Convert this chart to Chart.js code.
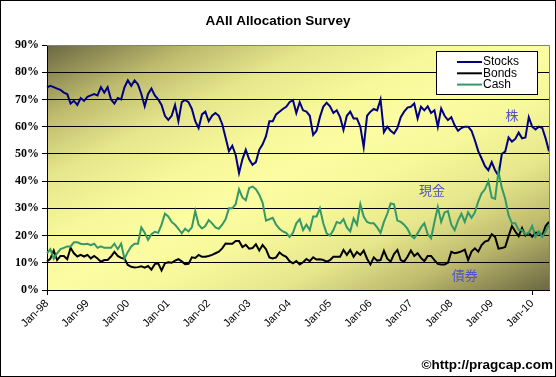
<!DOCTYPE html>
<html>
<head>
<meta charset="utf-8">
<script src="https://cdn.jsdelivr.net/npm/chart.js@4.4.0/dist/chart.umd.min.js"></script>
<style>
  html, body { margin: 0; padding: 0; background: #fff; }
  canvas { display: block; }
</style>
</head>
<body>
<canvas id="chart" width="556" height="377"></canvas>
<script>
// monthly survey, Jan-98 .. Jun-10
const monthNames = ['Jan', 'Feb', 'Mar', 'Apr', 'May', 'Jun', 'Jul', 'Aug', 'Sep', 'Oct', 'Nov', 'Dec'];
const years = ['98', '99', '00', '01', '02', '03', '04', '05', '06', '07', '08', '09', '10'];
const lastLabel = 'Jun-10';

const stocks = [
  74.4, 75, 74.5, 74, 73.5, 72.5, 72, 68.5, 69.5, 68,
  70.5, 69.5, 71, 71.5, 72, 71.5, 74.5, 72.5, 74.5, 70,
  68.5, 70.5, 70, 74.5, 77, 75, 77, 75.5, 72, 67.5,
  72, 74, 71.5, 70, 68, 64, 62.5, 64, 68, 62,
  69, 69.8, 69, 66.5, 62, 59.5, 64.5, 65.5, 62, 64,
  65, 64, 61, 56, 51, 53, 49.6, 43, 48, 51.5,
  48, 46, 47, 51.5, 53.5, 56.5, 62, 62, 64.5, 65.5,
  66.5, 67.3, 69, 69.8, 65, 69, 66, 65.5, 64, 57,
  58.5, 63.5, 67.3, 68.8, 67.5, 65, 66, 63.5, 58.8, 64,
  65.5, 63, 63, 60, 52.5, 64, 65.5, 66.5, 66, 70,
  58, 60, 58.5, 57.5, 59.5, 63.5, 65.5, 67, 67.3, 68.5,
  63, 67.3, 66, 67.5, 65, 66, 60, 66.7, 64, 62.4,
  63.5, 60.5, 58.5, 59.5, 60, 60, 58.5, 55, 51, 48.3,
  45.5, 44, 47, 44, 42, 50, 50.8, 56, 54.5, 55.5,
  57.8, 55.7, 56, 63.5, 60, 59, 60, 59.5, 55.7, 51
];
const bonds = [
  10.5, 11.5, 14.5, 11, 12.5, 12.5, 11.3, 15.5, 13.5, 12.3,
  12.9, 12.3, 12.9, 11.6, 12.5, 11.6, 10.4, 11, 11, 12.3,
  14, 12.5, 11.8, 11.5, 9.2, 8.5, 8.3, 8.4, 8.7, 8.2,
  8.8, 7.5, 9.5, 9.8, 7.2, 9.8, 10.2, 10, 10.8, 11.3,
  10.5, 9.5, 9.6, 12, 11.8, 12.9, 12.2, 12.2, 12.5, 12.9,
  13.5, 14.1, 15.3, 17.1, 17, 17, 18, 18, 15.8, 16.6,
  15.2, 15.4, 16.8, 14.5, 16.5, 15, 12, 11.6, 12, 13.8,
  12.8, 12.2, 10.6, 9.8, 10.6, 9.4, 10.2, 11.4, 10.6, 12,
  11.2, 11.3, 11, 10.4, 11, 12.2, 12.2, 12.2, 14.7, 12.9,
  14.7, 12.2, 14, 12.9, 14.5, 11.5, 9.4, 12, 10.8, 11,
  14.4, 11.5, 10.4, 13.2, 14.7, 11, 10.4, 12.2, 14.5, 12.5,
  13.5, 11.8, 10.6, 12.5, 12.5, 11, 9.6, 9.4, 9.4, 10,
  14, 13.5, 13.8, 14.2, 14.8, 11, 14.1, 15.3, 14.1, 16.5,
  17.8, 18.2, 20.5, 19.5, 15.2, 15.4, 15.8, 19.8, 23.5, 21.5,
  19.8, 22.8, 20, 21, 19.6, 21, 21, 20, 23.5, 25
];
const cash = [
  13.5, 15, 11.5, 13.5, 15, 15.5, 16, 16, 17.5, 17.5,
  17, 16.8, 17, 16.5, 17, 15.5, 16, 15.5, 15.5, 15.5,
  17, 15, 17, 11.5, 14, 16, 17, 17, 23, 21,
  18.4, 20.5, 21.4, 21, 24, 28, 27, 25, 24, 22.5,
  20.8, 22.5, 21.5, 23, 29, 24, 22.6, 23.5, 25.7, 24.5,
  23, 22.5, 24, 26, 30, 30, 31.5, 37, 34, 33,
  37.5, 38, 37, 35, 32, 25.5, 26, 26.5, 24, 22.5,
  21.5, 21, 19.5, 21, 24.5, 26, 22, 24, 22, 27,
  27, 30, 24.5, 20.8, 20, 22, 25, 24.5, 26, 23,
  21.5, 26.3, 24, 31.5, 27, 25, 24.5, 24.5, 23, 21,
  25, 28, 31.8, 31.5, 25.5, 25, 24, 22.5, 20, 19,
  20.8, 23, 24.5, 20.5, 19, 25, 30.5, 25, 28.5, 29,
  24, 22, 25.5, 28, 25, 28.5, 26.5, 28.5, 32.5, 35.5,
  37, 40, 34, 33.5, 43.5, 37.5, 33.5, 27.5, 24.5, 24.5,
  22, 22, 20.5, 21, 23.5, 19.5, 21.5, 19.5, 21.5, 24
];

// text notes in the plot: [text, month index, percent]
const notes = [
  ['株', 138, 64.3],
  ['現金', 114.3, 36.8],
  ['債券', 124, 5.5]
];

const labels = [];
for (const y of years) {
  for (const m of monthNames) {
    labels.push(m + '-' + y);
    if (m + '-' + y === lastLabel) break;
  }
}

const isJan = i => labels[i] && labels[i].startsWith('Jan');

const decor = {
  id: 'decor',
  beforeDraw(chart) {
    const { ctx, chartArea: a } = chart;
    ctx.save();
    ctx.fillStyle = '#fff';
    ctx.fillRect(0, 0, chart.width, chart.height);
    ctx.translate(a.left, a.top);
    ctx.scale(a.right - a.left, a.bottom - a.top);
    const g = ctx.createLinearGradient(0, 0, 1, 1);
    g.addColorStop(0, '#6b6741');
    g.addColorStop(0.15, '#bebb6e');
    g.addColorStop(0.27, '#e6e68c');
    g.addColorStop(0.4, '#f7f79b');
    g.addColorStop(0.5, '#fcfca2');
    g.addColorStop(0.6, '#f7f79b');
    g.addColorStop(0.73, '#e6e68c');
    g.addColorStop(0.85, '#bebb6e');
    g.addColorStop(1, '#6b6741');
    ctx.fillStyle = g;
    ctx.fillRect(0, 0, 1, 1);
    ctx.restore();
  },
  afterDraw(chart) {
    const { ctx, chartArea: a, scales } = chart;
    ctx.save();

    // plot frame
    ctx.strokeStyle = '#808080';
    ctx.lineWidth = 1;
    ctx.beginPath();
    ctx.moveTo(a.left, a.top + 0.5);
    ctx.lineTo(a.right + 0.5, a.top + 0.5);
    ctx.lineTo(a.right + 0.5, a.bottom);
    ctx.stroke();

    // title
    ctx.fillStyle = '#000';
    ctx.font = 'bold 13.5px "Liberation Sans", Arial, sans-serif';
    ctx.textAlign = 'center';
    ctx.textBaseline = 'middle';
    ctx.fillText('AAII Allocation Survey', chart.width / 2, 21);

    // legend
    const lx = 436, ly = 51, lw = 101, lh = 43;
    ctx.fillStyle = '#fff';
    ctx.fillRect(lx, ly, lw, lh);
    ctx.strokeStyle = '#000';
    ctx.strokeRect(lx + 0.5, ly + 0.5, lw, lh);
    ctx.font = '12px "Liberation Sans", Arial, sans-serif';
    ctx.textAlign = 'left';
    chart.data.datasets.forEach((ds, k) => {
      const y = ly + 11 + k * 11.3;
      ctx.strokeStyle = ds.borderColor;
      ctx.lineWidth = 2;
      ctx.beginPath();
      ctx.moveTo(lx + 21, y);
      ctx.lineTo(lx + 46, y);
      ctx.stroke();
      ctx.fillStyle = '#000';
      ctx.fillText(ds.label, lx + 47, y);
    });

    // notes
    ctx.fillStyle = '#5252c8';
    ctx.font = '13px "Noto Sans CJK JP", sans-serif';
    ctx.textAlign = 'center';
    for (const [t, i, v] of notes) {
      ctx.fillText(t, scales.x.getPixelForValue(i), scales.y.getPixelForValue(v));
    }

    // source
    ctx.fillStyle = '#000';
    ctx.font = 'bold 13.5px "Liberation Sans", Arial, sans-serif';
    ctx.textAlign = 'right';
    ctx.fillText('\u00a9http://pragcap.com', 553, 365);

    // outer frame
    ctx.strokeStyle = '#000';
    ctx.lineWidth = 1;
    ctx.strokeRect(0.5, 0.5, chart.width - 1, chart.height - 1);
    ctx.restore();
  }
};

new Chart(document.getElementById('chart'), {
  type: 'line',
  data: {
    labels: labels,
    datasets: [
      { label: 'Stocks', data: stocks, borderColor: '#000080', order: 2 },
      { label: 'Bonds', data: bonds, borderColor: '#000000', order: 1 },
      { label: 'Cash', data: cash, borderColor: '#339966', order: 0 }
    ]
  },
  options: {
    responsive: false,
    animation: false,
    devicePixelRatio: 1,
    layout: { padding: { top: 45, right: 7, left: 0, bottom: 0 } },
    elements: {
      line: { borderWidth: 2, tension: 0 },
      point: { radius: 0 }
    },
    plugins: {
      legend: { display: false },
      title: { display: false },
      tooltip: { enabled: false }
    },
    scales: {
      x: {
        type: 'category',
        offset: false,
        afterFit: s => { s.height = 87; },
        grid: {
          drawOnChartArea: false,
          drawTicks: true,
          tickLength: 5,
          color: ctx => isJan(ctx.index) ? '#000' : 'rgba(0,0,0,0)',
          tickColor: ctx => isJan(ctx.index) ? '#000' : 'rgba(0,0,0,0)'
        },
        border: { display: true, color: '#000' },
        ticks: {
          autoSkip: false,
          minRotation: 45,
          maxRotation: 45,
          padding: 2,
          color: '#000',
          font: { family: '"Liberation Sans", Arial, sans-serif', size: 11 },
          callback: (v, i) => isJan(i) ? labels[i] : null
        }
      },
      y: {
        min: 0,
        max: 90,
        afterFit: s => { s.width = 47; },
        grid: {
          color: '#000',
          lineWidth: 1,
          drawTicks: true,
          tickLength: 5,
          tickColor: '#000'
        },
        border: { display: true, color: '#000' },
        ticks: {
          stepSize: 10,
          padding: 3,
          color: '#000',
          font: { family: '"Liberation Serif", "Times New Roman", serif', size: 12, weight: 'bold' },
          callback: v => v + '%'
        }
      }
    }
  },
  plugins: [decor]
});
</script>
</body>
</html>
